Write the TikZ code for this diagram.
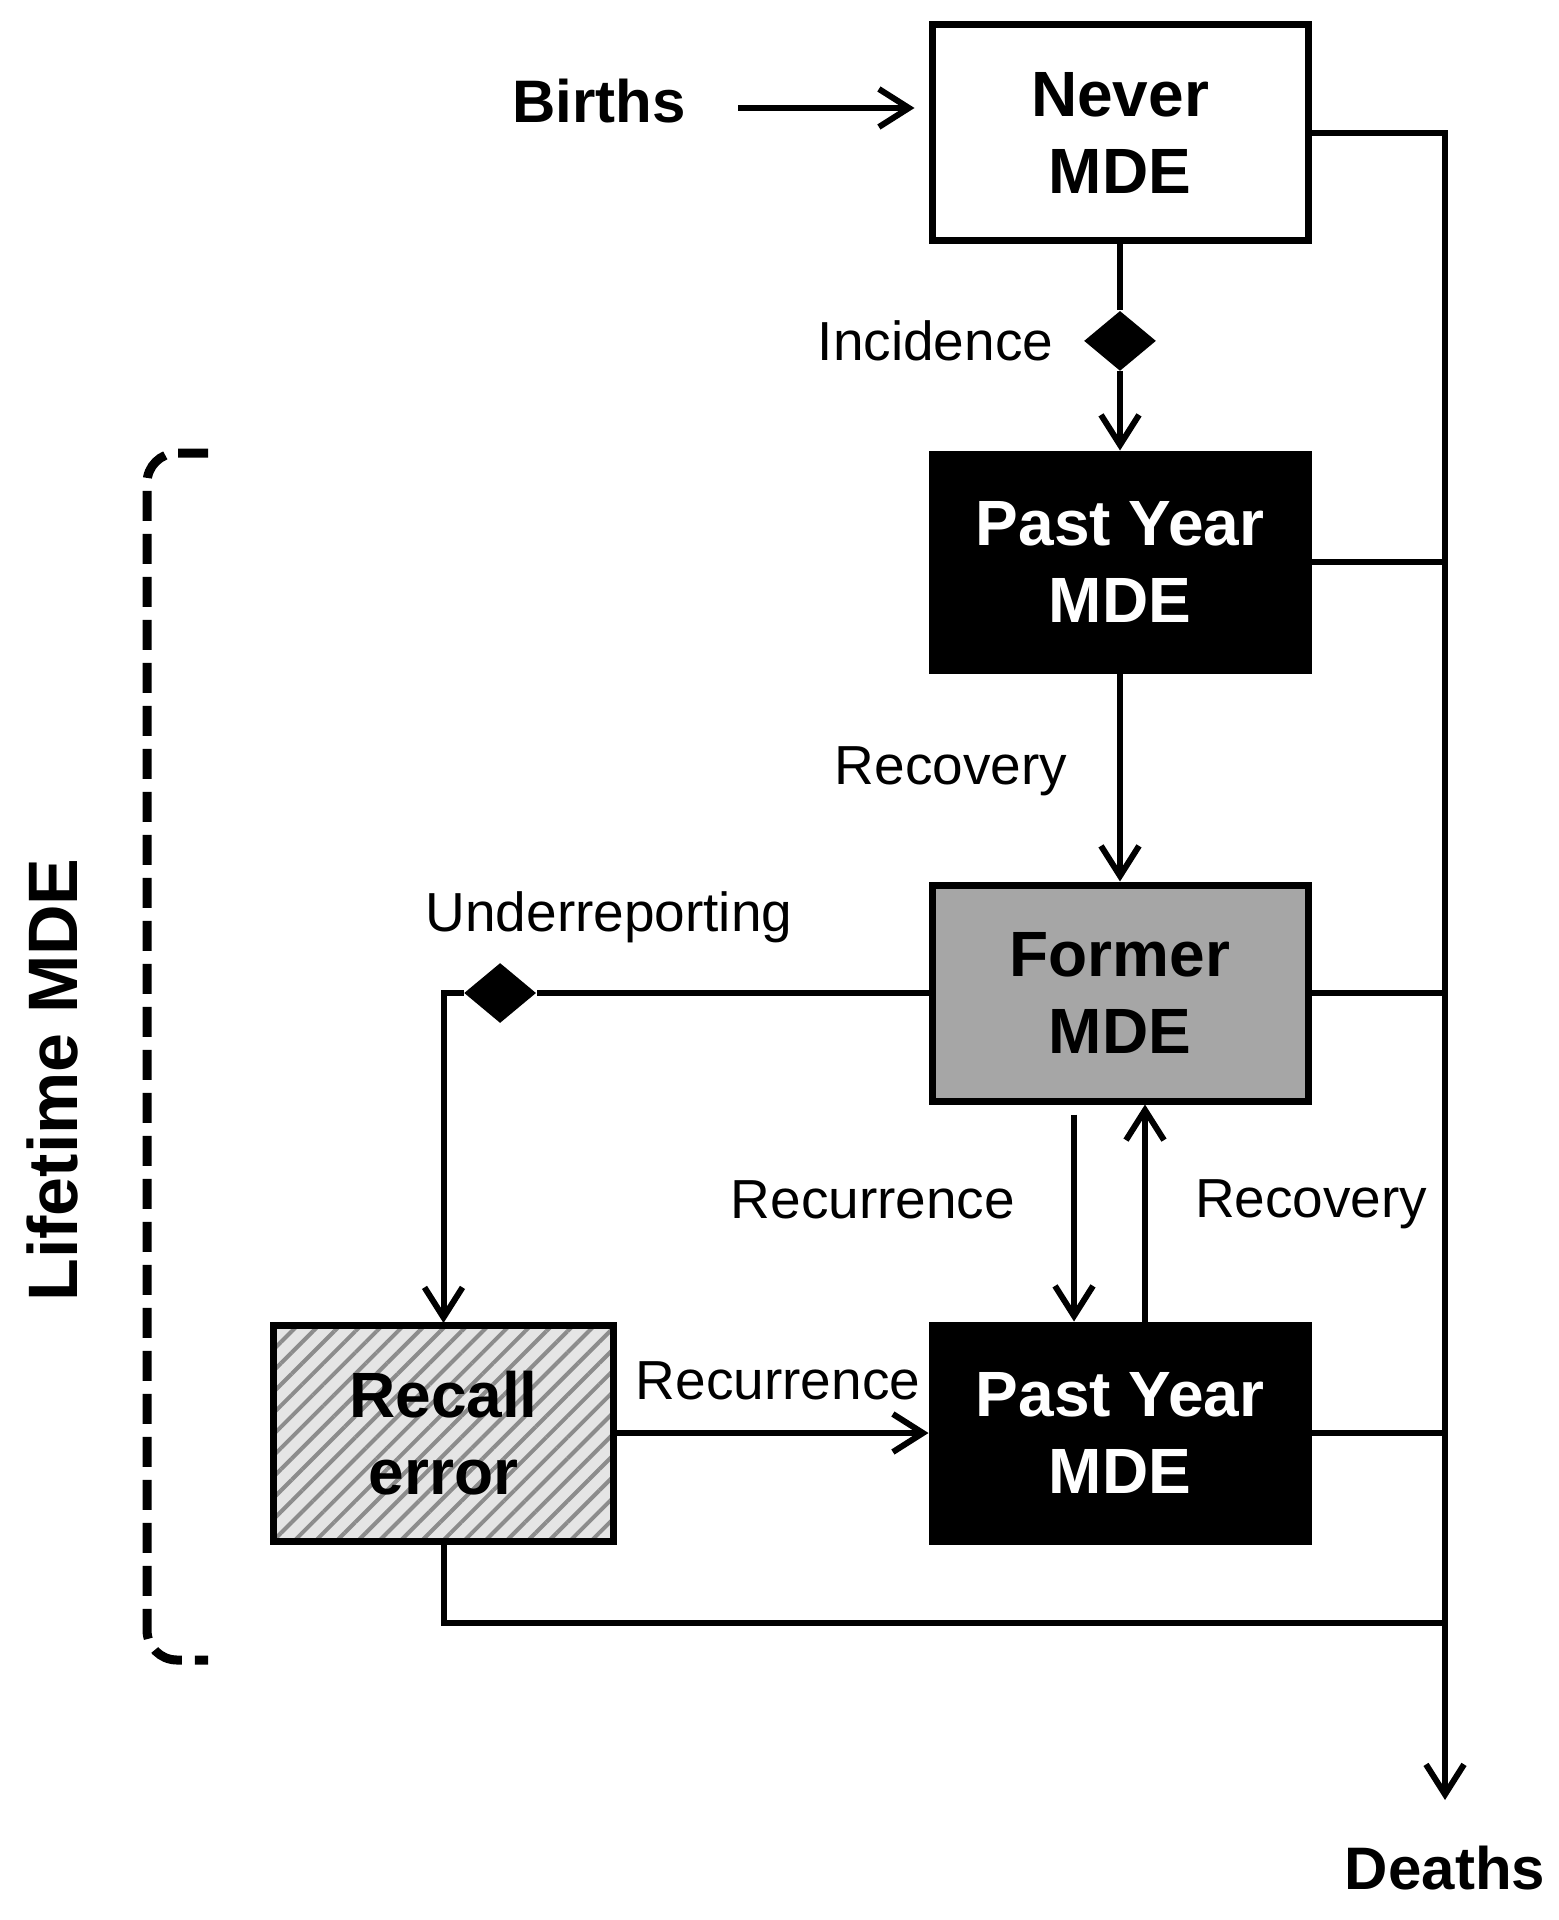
\documentclass[tikz,border=0pt]{standalone}
\usepackage{fontspec}
\setmainfont{Liberation Sans}
\usetikzlibrary{arrows.meta,positioning,shapes.geometric,patterns.meta}

\newcommand\boxfont{\fontsize{32}{38.5}\selectfont\bfseries}
\newcommand\flowfont{\fontsize{27.5}{33}\selectfont}
\newcommand\sinkfont{\fontsize{30}{36}\selectfont\bfseries}

\begin{document}
\begin{tikzpicture}[
    x=0.5pt, y=-0.5pt,
    module/.style={draw, line width=3.5pt, fill=white, minimum width=188pt, minimum height=108pt, align=center, font=\boxfont, text depth=-4.5pt},
    pastyear/.style={module, fill=black, text=white},
    formerbox/.style={module, fill=black!35},
    recallbox/.style={module, minimum width=170pt, preaction={fill=black!10}, pattern={Lines[angle=45,distance=7.5pt,line width=2pt]}, pattern color=black!45},
    rate/.style={diamond, fill=black, minimum width=36pt, minimum height=30pt, inner sep=0pt},
    flow/.style={font=\flowfont, inner sep=0pt},
    ends/.style={font=\sinkfont, inner sep=0pt},
    line/.style={-{Straight Barb[length=15pt, width=19pt]}, line width=3pt},
    wire/.style={line width=3pt},
    bracket/.style={line width=4.5pt, dash pattern=on 15pt off 6.5pt, rounded corners=15pt}
  ]
    \useasboundingbox[fill=white] (0,0) rectangle (1558,1920);

    % states
    \node[module] (never) at (1120,133) {Never\\MDE};
    \node[pastyear, below=103pt of never] (past1) {Past Year\\MDE};
    \node[formerbox, below=104pt of past1] (former) {Former\\MDE};
    \node[pastyear, below=108.5pt of former] (past2) {Past Year\\MDE};
    \node[recallbox, left=156.5pt of past2] (recall) {Recall\\error};

    % rates
    \node[rate, below=33pt of never] (idia) {};
    \node[rate, left=196pt of former] (udia) {};

    \node[ends] (births) at (599,101) {Births};
    \node[ends] (deaths) at (1445,1868) {Deaths};
    \coordinate (dend) at (1445,1800);
    \coordinate (rbot) at (1445,1623);

    \node[flow, left=15pt of idia] (inclab) {Incidence};
    \node[flow] (underlab) at (609,917) {Underreporting};
    \node[ends, font=\fontsize{35}{40}\selectfont\bfseries, rotate=90] (lifetime) at (52,1080) {Lifetime MDE};

    \draw[line, shorten <=26pt, shorten >=7pt] ([yshift=-3.5pt]births.east) -- ([yshift=-3.5pt]births.east -| never.west);
    \draw[line] (never) -- (idia) -- (past1);
    \draw[line] (past1) -- node[flow, pos=0.47, left=25pt] (reclab1) {Recovery} (former);
    \draw[line] (former) -- (udia) -| (recall);
    \draw[line, shorten <=5pt] ([xshift=-23pt]former.south) -- node[flow, pos=0.44, left=28pt] (recurlab1) {Recurrence} ([xshift=-23pt]past2.north);
    \draw[line] ([xshift=12.5pt]past2.north) -- node[flow, pos=0.54, right=23.5pt] (reclab2) {Recovery} ([xshift=12.5pt]former.south);
    \draw[line] (recall) -- node[flow, above=15pt, xshift=3pt] (recurlab2) {Recurrence} (past2);

    % deaths
    \draw[line] (never.east) -| (dend);
    \draw[wire] (past1.east) -- (past1.east -| dend);
    \draw[wire] (former.east) -- (former.east -| dend);
    \draw[wire] (past2.east) -- (past2.east -| dend);
    \draw[wire] (recall.south) |- (rbot);

    \draw[bracket] (208,453) -- (147,453) -- (147,1660) -- (208,1660);
  \end{tikzpicture}
\end{document}
